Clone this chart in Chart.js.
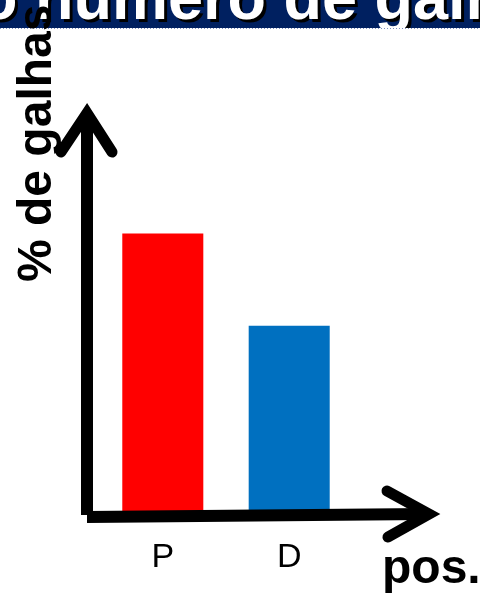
<!DOCTYPE html>
<html>
<head>
<meta charset="utf-8">
<script src="https://cdn.jsdelivr.net/npm/chart.js@4"></script>
<style>
html,body{margin:0;padding:0;background:#fff;overflow:hidden;}
canvas{display:block;}
</style>
</head>
<body>
<canvas id="c" width="480" height="593"></canvas>
<script>
const categories = ['P', 'D'];
const values = [69.4, 46.3];
const barColors = ['#FF0000', '#0070C0'];
const titleText = 'do número de galhas';
const yTitle = '% de galhas';
const xTitle = 'pos.';

const FONT = '"Liberation Sans", Arial, sans-serif';

const decor = {
  id: 'decor',
  beforeDraw(chart) {
    const ctx = chart.ctx;
    ctx.save();
    ctx.fillStyle = '#fff';
    ctx.fillRect(0, 0, chart.width, chart.height);
    // banner
    ctx.fillStyle = '#002060';
    ctx.fillRect(0, 0, chart.width, 28);
    ctx.strokeStyle = '#7f8fbf';
    ctx.lineWidth = 1;
    ctx.setLineDash([1, 2]);
    ctx.beginPath();
    ctx.moveTo(0, 28.5);
    ctx.lineTo(chart.width, 28.5);
    ctx.stroke();
    ctx.setLineDash([]);
    ctx.beginPath();
    ctx.rect(0, 0, chart.width, 28);
    ctx.clip();
    ctx.font = 'bold 63px ' + FONT;
    const pre = ctx.measureText('do ').width;
    ctx.shadowColor = '#000';
    ctx.shadowOffsetX = 3;
    ctx.shadowOffsetY = 3;
    ctx.shadowBlur = 0;
    ctx.fillStyle = '#fff';
    ctx.textBaseline = 'alphabetic';
    ctx.fillText(titleText, 35 - pre, 19);
    ctx.restore();
  },
  afterDraw(chart) {
    const ctx = chart.ctx;
    ctx.save();
    ctx.strokeStyle = '#000';
    ctx.fillStyle = '#000';
    // vertical shaft
    ctx.lineCap = 'butt';
    ctx.lineWidth = 12;
    ctx.beginPath();
    ctx.moveTo(87, 515);
    ctx.lineTo(87, 112);
    ctx.stroke();
    // horizontal shaft
    ctx.beginPath();
    ctx.moveTo(87, 517);
    ctx.lineTo(426, 514);
    ctx.stroke();
    // heads
    ctx.lineWidth = 11;
    ctx.lineCap = 'round';
    ctx.lineJoin = 'miter';
    ctx.miterLimit = 10;
    ctx.beginPath();
    ctx.moveTo(61, 152);
    ctx.lineTo(87, 113);
    ctx.lineTo(112, 152);
    ctx.stroke();
    ctx.beginPath();
    ctx.moveTo(387, 491);
    ctx.lineTo(429, 514);
    ctx.lineTo(388, 537);
    ctx.stroke();
    // y title
    ctx.font = 'bold 48px ' + FONT;
    ctx.textBaseline = 'alphabetic';
    ctx.textAlign = 'left';
    ctx.save();
    ctx.translate(51, 282);
    ctx.rotate(-Math.PI / 2);
    ctx.fillText(yTitle, 0, 0);
    ctx.restore();
    // x title
    ctx.fillText(xTitle, 382, 583);
    ctx.restore();
  }
};

new Chart(document.getElementById('c'), {
  type: 'bar',
  data: {
    labels: categories,
    datasets: [{
      data: values,
      backgroundColor: barColors,
      borderWidth: 0,
      barPercentage: 0.641,
      categoryPercentage: 1
    }]
  },
  options: {
    responsive: false,
    animation: false,
    devicePixelRatio: 1,
    layout: { padding: { left: 99.6, right: 127.6, top: 111, bottom: 0 } },
    plugins: { legend: { display: false }, tooltip: { enabled: false }, title: { display: false } },
    scales: {
      x: {
        display: true,
        grid: { display: false, drawTicks: false },
        border: { display: false },
        ticks: { color: '#000', font: { family: FONT, size: 34 }, padding: 26, maxRotation: 0 },
        afterFit(scale) { scale.height = 82; }
      },
      y: {
        display: false,
        min: 0,
        max: 100
      }
    }
  },
  plugins: [decor]
});
</script>
</body>
</html>
